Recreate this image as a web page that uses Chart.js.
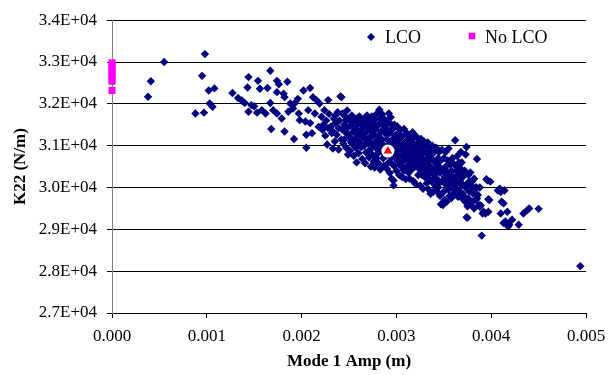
<!DOCTYPE html>
<html>
<head>
<meta charset="utf-8">
<script src="https://cdn.jsdelivr.net/npm/chart.js@4/dist/chart.umd.min.js"></script>
<style>
  html, body { margin: 0; padding: 0; background: #fff; }
  #wrap { position: relative; width: 614px; height: 375px; }
</style>
</head>
<body>
<div id="wrap"><canvas id="chart"></canvas></div>
<script>
// [Mode 1 Amp (m), K22 (N/m)]
const lcoLeft = [
  [0.00038, 32170], [0.00041, 32540], [0.00055, 33000], [0.00088, 31770], [0.00095, 32670],
  [0.00097, 31790], [0.00098, 33190], [0.00102, 32320], [0.00103, 32010], [0.00106, 31930],
  [0.00108, 32370], [0.00127, 32260], [0.00133, 32140], [0.00137, 32080], [0.00140, 32020],
  [0.00144, 32640], [0.00143, 32390], [0.00144, 31810], [0.00147, 31970], [0.00150, 31940],
  [0.00153, 31790], [0.00154, 32550], [0.00156, 32360], [0.00158, 31850], [0.00162, 31770],
  [0.00164, 32380], [0.00167, 32790], [0.00167, 32020], [0.00168, 31400], [0.00170, 31850],
  [0.00174, 31770], [0.00174, 32550], [0.00176, 32470], [0.00174, 32280], [0.00179, 31650],
  [0.00181, 32240], [0.00182, 32160], [0.00182, 31340], [0.00185, 32530], [0.00186, 31810],
  [0.00188, 32010], [0.00191, 31890], [0.00192, 31160], [0.00193, 32020], [0.00196, 32120],
  [0.00197, 31770], [0.00198, 31610], [0.00202, 32320], [0.00204, 31580], [0.00205, 30950],
  [0.00205, 31260], [0.00207, 31850], [0.00209, 32380], [0.00209, 31540], [0.00211, 31300],
  [0.00212, 32160], [0.00214, 31770], [0.00216, 32080], [0.00218, 31450], [0.00219, 32010]
];

const lcoCloud = [
  [0.00221, 31690], [0.00222, 31380], [0.00223, 31500], [0.00224, 31850], [0.00226, 31600],
  [0.00227, 31030], [0.00228, 31420], [0.00229, 31760], [0.00225, 31240], [0.00228, 32090],
  [0.00231, 31460], [0.00232, 31300], [0.00233, 31340], [0.00234, 31650], [0.00235, 31100],
  [0.00236, 31550], [0.00237, 31260], [0.00238, 31800], [0.00239, 30910], [0.00239, 31420],
  [0.00233, 30930], [0.00236, 31730],
  [0.00240, 31600], [0.00241, 32180], [0.00242, 31150], [0.00242, 32160], [0.00243, 31770],
  [0.00243, 31380], [0.00244, 31050], [0.00245, 31150], [0.00245, 31500], [0.00246, 31700],
  [0.00247, 31610], [0.00247, 30950], [0.00248, 31280], [0.00249, 30790], [0.00249, 31440],
  [0.00248, 31840],
  [0.00250, 31620], [0.00251, 31200], [0.00251, 30880], [0.00252, 31480], [0.00253, 31050],
  [0.00253, 31720], [0.00254, 31330], [0.00255, 30760], [0.00255, 31560], [0.00256, 31150],
  [0.00257, 31400], [0.00257, 30950], [0.00258, 31650], [0.00258, 30600], [0.00259, 31250],
  [0.00259, 31030],
  [0.00260, 31520], [0.00260, 30820], [0.00261, 31100], [0.00261, 31700], [0.00262, 31350],
  [0.00263, 30960], [0.00263, 31580], [0.00264, 30680], [0.00264, 31220], [0.00265, 31450],
  [0.00266, 31000], [0.00266, 31650], [0.00267, 30580], [0.00267, 31300], [0.00268, 31140],
  [0.00268, 30840], [0.00269, 31520], [0.00269, 31720],
  [0.00270, 31050], [0.00270, 31420], [0.00271, 30720], [0.00271, 31600], [0.00272, 31200],
  [0.00272, 30900], [0.00273, 30500], [0.00273, 31350], [0.00274, 31700], [0.00274, 31050],
  [0.00275, 30780], [0.00275, 31500], [0.00276, 31250], [0.00276, 30620], [0.00277, 30480],
  [0.00277, 31620], [0.00278, 30950], [0.00278, 31380], [0.00279, 31120], [0.00279, 31760],
  [0.00280, 30800], [0.00280, 31480], [0.00281, 31240], [0.00281, 30580], [0.00282, 31860],
  [0.00282, 31050], [0.00283, 31650], [0.00283, 30430], [0.00284, 31350], [0.00284, 30900],
  [0.00285, 31150], [0.00285, 31750], [0.00286, 30700], [0.00286, 31500], [0.00287, 31000],
  [0.00287, 30520], [0.00288, 31300], [0.00288, 31620], [0.00289, 30760], [0.00289, 31420],
  [0.00290, 31150], [0.00290, 30450], [0.00291, 31550], [0.00292, 31770], [0.00292, 30600],
  [0.00293, 31300], [0.00293, 30350], [0.00294, 31050], [0.00294, 31680], [0.00295, 30210],
  [0.00295, 30720], [0.00296, 31400], [0.00296, 30950], [0.00297, 30050], [0.00297, 31170],
  [0.00298, 30520], [0.00298, 31500], [0.00299, 30800], [0.00299, 31250], [0.00297, 30170],
  [0.00300, 30400], [0.00300, 31050], [0.00301, 31460], [0.00301, 30650], [0.00302, 30900],
  [0.00302, 31300], [0.00303, 30300], [0.00303, 31150], [0.00304, 30750], [0.00304, 31380],
  [0.00305, 30500], [0.00305, 31000], [0.00306, 30250], [0.00306, 31220], [0.00307, 30620],
  [0.00307, 30880], [0.00308, 31400], [0.00308, 30400], [0.00309, 31080], [0.00309, 30700],
  [0.00310, 30200], [0.00310, 30950], [0.00311, 31300], [0.00311, 30500], [0.00312, 30800],
  [0.00312, 31150], [0.00313, 30350], [0.00313, 31000], [0.00314, 30210], [0.00314, 30650],
  [0.00315, 31250], [0.00315, 30900], [0.00316, 30450], [0.00316, 31100], [0.00317, 30750],
  [0.00317, 31320], [0.00318, 30150], [0.00318, 30980], [0.00319, 30600], [0.00319, 31200],
  [0.00320, 30090], [0.00320, 30850], [0.00321, 31220], [0.00321, 30500], [0.00322, 30700],
  [0.00322, 31050], [0.00323, 30300], [0.00323, 30950], [0.00324, 30600], [0.00324, 31150],
  [0.00325, 30050], [0.00325, 30800], [0.00326, 31160], [0.00326, 30400], [0.00327, 30700],
  [0.00327, 30980], [0.00328, 29970], [0.00328, 30550], [0.00329, 30850], [0.00329, 31100],
  [0.00330, 30250], [0.00330, 30650], [0.00331, 31000], [0.00331, 30400], [0.00332, 30800],
  [0.00332, 30100], [0.00333, 30550], [0.00333, 31080], [0.00334, 29950], [0.00334, 30700],
  [0.00335, 30350], [0.00335, 30900], [0.00336, 29850], [0.00336, 30500], [0.00337, 30780],
  [0.00337, 30150], [0.00338, 30400], [0.00338, 31000], [0.00339, 29900], [0.00339, 30650],
  [0.00340, 30300], [0.00340, 30850], [0.00341, 30050], [0.00341, 30600], [0.00342, 30450],
  [0.00342, 30950], [0.00343, 29900], [0.00343, 30200], [0.00344, 30700], [0.00344, 30000],
  [0.00345, 30500], [0.00345, 30850], [0.00346, 29800], [0.00346, 30350], [0.00347, 29600],
  [0.00347, 30650], [0.00348, 30150], [0.00348, 30900], [0.00349, 29580], [0.00349, 30400],
  [0.00350, 29900], [0.00350, 30700], [0.00351, 30250], [0.00351, 29700], [0.00352, 30500],
  [0.00352, 30850], [0.00353, 29660], [0.00353, 30050], [0.00354, 30350], [0.00354, 30650],
  [0.00355, 30930], [0.00355, 29950], [0.00356, 30200], [0.00356, 29800], [0.00357, 30130],
  [0.00357, 30550], [0.00358, 29750], [0.00358, 30400], [0.00359, 30000], [0.00359, 30700],
  [0.00360, 30250], [0.00360, 29850], [0.00361, 30550], [0.00362, 31130], [0.00362, 29950],
  [0.00363, 29970], [0.00363, 30400], [0.00364, 30100], [0.00364, 30750], [0.00365, 29780],
  [0.00365, 30300], [0.00366, 30600], [0.00367, 29900], [0.00367, 30150], [0.00368, 30450],
  [0.00369, 30600], [0.00369, 29750], [0.00368, 30850],
  [0.00370, 29850], [0.00370, 30250], [0.00371, 30050], [0.00372, 30400], [0.00373, 30790],
  [0.00373, 29650], [0.00374, 30970], [0.00374, 29290], [0.00375, 30100], [0.00375, 29550],
  [0.00376, 29740], [0.00376, 30300], [0.00377, 29900], [0.00378, 30360], [0.00378, 29600],
  [0.00379, 30050], [0.00375, 29280]
];

// extra points in the dense core of the band
const lcoCore = [
  [0.00246, 31350], [0.00252, 31100], [0.00256, 31520], [0.00262, 31060], [0.00265, 31250],
  [0.00271, 31150], [0.00274, 31450], [0.00277, 31000], [0.00279, 30700], [0.00281, 31500],
  [0.00283, 31150], [0.00285, 30850], [0.00287, 31550], [0.00288, 30950], [0.00291, 31300],
  [0.00293, 31050], [0.00295, 31500], [0.00296, 30550], [0.00299, 31000], [0.00300, 30700],
  [0.00302, 31150], [0.00304, 30550], [0.00306, 30950], [0.00308, 30800], [0.00311, 30700],
  [0.00313, 30550], [0.00315, 31050], [0.00317, 30450], [0.00319, 30850], [0.00321, 30650],
  [0.00323, 30500], [0.00325, 30950], [0.00327, 30300], [0.00329, 30500], [0.00331, 30550],
  [0.00333, 30250], [0.00335, 30650], [0.00337, 30450], [0.00339, 30200], [0.00341, 30350],
  [0.00343, 30550], [0.00345, 30100], [0.00347, 30400], [0.00349, 30150], [0.00351, 30450],
  [0.00353, 30250], [0.00355, 30150], [0.00357, 30350], [0.00359, 30200], [0.00361, 30050],
  [0.00363, 30200], [0.00365, 30500], [0.00367, 30350], [0.00369, 30050], [0.00371, 29800],
  [0.00373, 30000], [0.00377, 30150]
];

const lcoTail = [
  [0.00380, 29660], [0.00380, 30150], [0.00381, 29850], [0.00382, 30210], [0.00382, 29500],
  [0.00383, 29950], [0.00384, 30010], [0.00384, 29700], [0.00385, 30680], [0.00385, 29740],
  [0.00386, 29820], [0.00387, 29580], [0.00388, 29540], [0.00388, 30000], [0.00389, 29570],
  [0.00390, 28850], [0.00391, 29380], [0.00392, 29420], [0.00394, 29380], [0.00395, 30200],
  [0.00396, 30170], [0.00397, 29720], [0.00398, 29700], [0.00399, 30140], [0.00397, 29420],
  [0.00407, 29930], [0.00409, 29970], [0.00410, 29890], [0.00410, 29380], [0.00411, 29660],
  [0.00413, 29620], [0.00414, 29930], [0.00413, 29150], [0.00415, 29190], [0.00417, 29420],
  [0.00418, 29070], [0.00419, 29110], [0.00422, 29230], [0.00429, 29110], [0.00434, 29380],
  [0.00438, 29460], [0.00440, 29500], [0.00450, 29490], [0.00494, 28120]
];

const noLcoAmp = [0, 0, 0, 0, 0, 0, 0, 0];
const noLcoK22 = [32980, 32900, 32820, 32740, 32660, 32600, 32540, 32320];

const meanAmp = [0.00291];
const meanK22 = [30870];

const xTicks = { min: 0, max: 0.005, step: 0.001 };
const yTicks = { min: 27000, max: 34000, step: 1000 };

const FONT = "'Liberation Serif', 'Times New Roman', serif";
const NAVY = '#000080';
const MAGENTA = '#ff00ff';
const RED = '#ff0000';

const toXY = (xs, ys) => xs.map((x, i) => ({ x, y: ys[i] }));
const pairs = (list) => list.map(([x, y]) => ({ x, y }));

// legend sits inside the plot, like the original
const insideLegend = {
  id: 'insideLegend',
  afterDraw(chart) {
    const { ctx } = chart;
    const y = 37;
    ctx.save();
    ctx.fillStyle = NAVY;
    Chart.helpers.drawPoint(ctx, { pointStyle: 'rectRot', radius: 4, borderWidth: 0, rotation: 0 }, 371, y);
    ctx.fillStyle = MAGENTA;
    Chart.helpers.drawPoint(ctx, { pointStyle: 'rect', radius: 4.6, borderWidth: 0, rotation: 0 }, 472, y - 1);
    ctx.fillStyle = '#000';
    ctx.font = `18px ${FONT}`;
    ctx.textBaseline = 'middle';
    ctx.textAlign = 'left';
    ctx.fillText('LCO', 385, y + 1);
    ctx.fillText('No LCO', 485, y + 1);
    ctx.restore();
  },
};

new Chart(document.getElementById('chart'), {
  type: 'scatter',
  data: {
    datasets: [
      {
        label: 'Mean',
        data: toXY(meanAmp, meanK22),
        pointStyle: 'triangle',
        pointRadius: 5,
        backgroundColor: RED,
        borderWidth: 0,
      },
      {
        label: 'halo',
        data: toXY(meanAmp, meanK22),
        pointStyle: 'circle',
        pointRadius: 6.5,
        backgroundColor: '#fff',
        borderWidth: 0,
      },
      {
        label: 'LCO',
        data: pairs([...lcoLeft, ...lcoCloud, ...lcoCore, ...lcoTail]),
        pointStyle: 'rectRot',
        pointRadius: 4.2,
        backgroundColor: NAVY,
        borderWidth: 0,
        clip: false,
      },
      {
        label: 'No LCO',
        data: toXY(noLcoAmp, noLcoK22),
        pointStyle: 'rect',
        pointRadius: 5,
        backgroundColor: MAGENTA,
        borderWidth: 0,
        clip: false,
      },
    ],
  },
  options: {
    responsive: true,
    maintainAspectRatio: false,
    animation: false,
    layout: { padding: { left: 0, right: 28, top: 15, bottom: 0 } },
    plugins: {
      legend: { display: false },
      tooltip: { enabled: false },
    },
    scales: {
      x: {
        type: 'linear',
        min: xTicks.min,
        max: xTicks.max,
        afterFit: (s) => { s.height = 62; },
        ticks: {
          stepSize: xTicks.step,
          color: '#000',
          padding: 8,
          font: { family: FONT, size: 17 },
          callback: (v) => v.toFixed(3),
        },
        grid: { drawOnChartArea: false, drawTicks: true, tickLength: 5, color: '#000' },
        border: { display: true, color: '#000' },
        title: {
          display: true,
          text: 'Mode 1 Amp (m)',
          color: '#000',
          padding: { top: 0, bottom: 3 },
          font: { family: FONT, size: 17, weight: 'bold' },
        },
      },
      y: {
        min: yTicks.min,
        max: yTicks.max,
        afterFit: (s) => { s.width = 112; },
        ticks: {
          stepSize: yTicks.step,
          color: '#000',
          padding: 10,
          font: { family: FONT, size: 17 },
          callback: (v) => (v / 10000).toFixed(1) + 'E+04',
        },
        grid: { color: '#000', tickLength: 5 },
        border: { display: true, color: '#808080' },
        title: {
          display: true,
          text: 'K22 (N/m)',
          color: '#000',
          padding: { top: 10, bottom: 0 },
          font: { family: FONT, size: 17, weight: 'bold' },
        },
      },
    },
  },
  plugins: [insideLegend],
});
</script>
</body>
</html>
